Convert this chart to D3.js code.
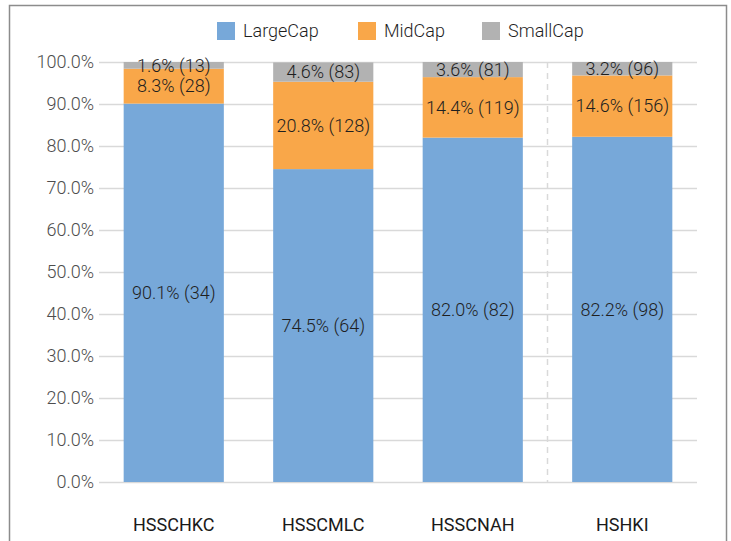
<!DOCTYPE html>
<html><head><meta charset="utf-8">
<script src="https://cdn.jsdelivr.net/npm/d3@7"></script>
<style>body{margin:0;background:#fff;} svg{display:block;font-family:Roboto, "Noto Sans", sans-serif;}</style>
</head><body>
<script>
const categories = ["HSSCHKC", "HSSCMLC", "HSSCNAH", "HSHKI"];
const seriesNames = ["LargeCap", "MidCap", "SmallCap"];
const largeCap = [90.1, 74.5, 82.0, 82.2];
const midCap = [8.3, 20.8, 14.4, 14.6];
const smallCap = [1.6, 4.6, 3.6, 3.2];
const largeCount = [34, 64, 82, 98];
const midCount = [28, 128, 119, 156];
const smallCount = [13, 83, 81, 96];
const yTicks = [0, 10, 20, 30, 40, 50, 60, 70, 80, 90, 100];
const colors = ["#77a8d9", "#f9a749", "#b2b2b2"];

const W = 731, H = 541;
const svg = d3.select("body").append("svg").attr("width", W).attr("height", H);
svg.append("rect").attr("x", 9.5).attr("y", 5.5).attr("width", 717).attr("height", 545)
  .attr("fill", "#fff").attr("stroke", "#8c8c8c").attr("stroke-width", 1.5);

const m = {l: 99, r: 697, t: 62, b: 482};
const x = d3.scaleBand().domain(categories).range([m.l, m.r]).paddingInner(0.33).paddingOuter(0.165);
const y = d3.scaleLinear().domain([0, 100]).range([m.b, m.t]);

const yAxis = d3.axisLeft(y).tickValues(yTicks).tickFormat(d => d.toFixed(1) + "%").tickSize(-(m.r - m.l)).tickPadding(5);
const gy = svg.append("g").attr("transform", `translate(${m.l},0)`).call(yAxis);
gy.select(".domain").remove();
gy.selectAll(".tick line").attr("stroke", "#d9d9d9").attr("stroke-width", 1.5);
gy.selectAll(".tick text").attr("fill", "#4d4d4d").attr("font-size", 18).attr("font-family", "Roboto").attr("font-weight", 300);

const sepX = x("HSHKI") - x.step() * x.paddingInner() / 2;
svg.append("line").attr("x1", sepX).attr("x2", sepX).attr("y1", m.t).attr("y2", m.b)
  .attr("stroke", "#d9d9d9").attr("stroke-width", 1.5).attr("stroke-dasharray", "6,5");

const data = categories.map((c, i) => ({cat: c, LargeCap: largeCap[i], MidCap: midCap[i], SmallCap: smallCap[i],
  counts: {LargeCap: largeCount[i], MidCap: midCount[i], SmallCap: smallCount[i]}}));
const stack = d3.stack().keys(seriesNames)(data);

stack.forEach((s, si) => {
  svg.append("g").selectAll("rect").data(s).join("rect")
    .attr("x", d => x(d.data.cat)).attr("width", x.bandwidth())
    .attr("y", d => y(Math.min(100, d[1]))).attr("height", d => y(d[0]) - y(Math.min(100, d[1])))
    .attr("fill", colors[si]);
});
stack.forEach((s, si) => {
  svg.append("g").selectAll("text").data(s).join("text")
    .attr("x", d => x(d.data.cat) + x.bandwidth() / 2)
    .attr("y", d => y((d[0] + Math.min(100, d[1])) / 2))
    .attr("dy", "0.35em").attr("text-anchor", "middle")
    .attr("font-size", 18).attr("font-weight", 300).attr("fill", "#1f1f1f")
    .text(d => (d[1] - d[0]).toFixed(1) + "% (" + d.data.counts[s.key] + ")");
});

const xAxis = d3.axisBottom(x).tickSize(0).tickPadding(0);
const gx = svg.append("g").attr("transform", `translate(0,${m.b})`).call(xAxis);
gx.select(".domain").remove();
gx.selectAll(".tick text").attr("y", 43).attr("dy", "0.35em").attr("font-size", 18).attr("font-weight", 400)
  .attr("fill", "#1a1a1a").attr("font-family", "Roboto");

const legX = [217, 358, 482];
const lg = svg.append("g");
seriesNames.forEach((n, i) => {
  lg.append("rect").attr("x", legX[i]).attr("y", 22).attr("width", 18).attr("height", 18).attr("fill", colors[i]);
  lg.append("text").attr("x", legX[i] + 26).attr("y", 31).attr("dy", "0.35em")
    .attr("font-size", 18).attr("font-weight", 300).attr("fill", "#1f1f1f").text(n);
});
</script>
</body></html>
